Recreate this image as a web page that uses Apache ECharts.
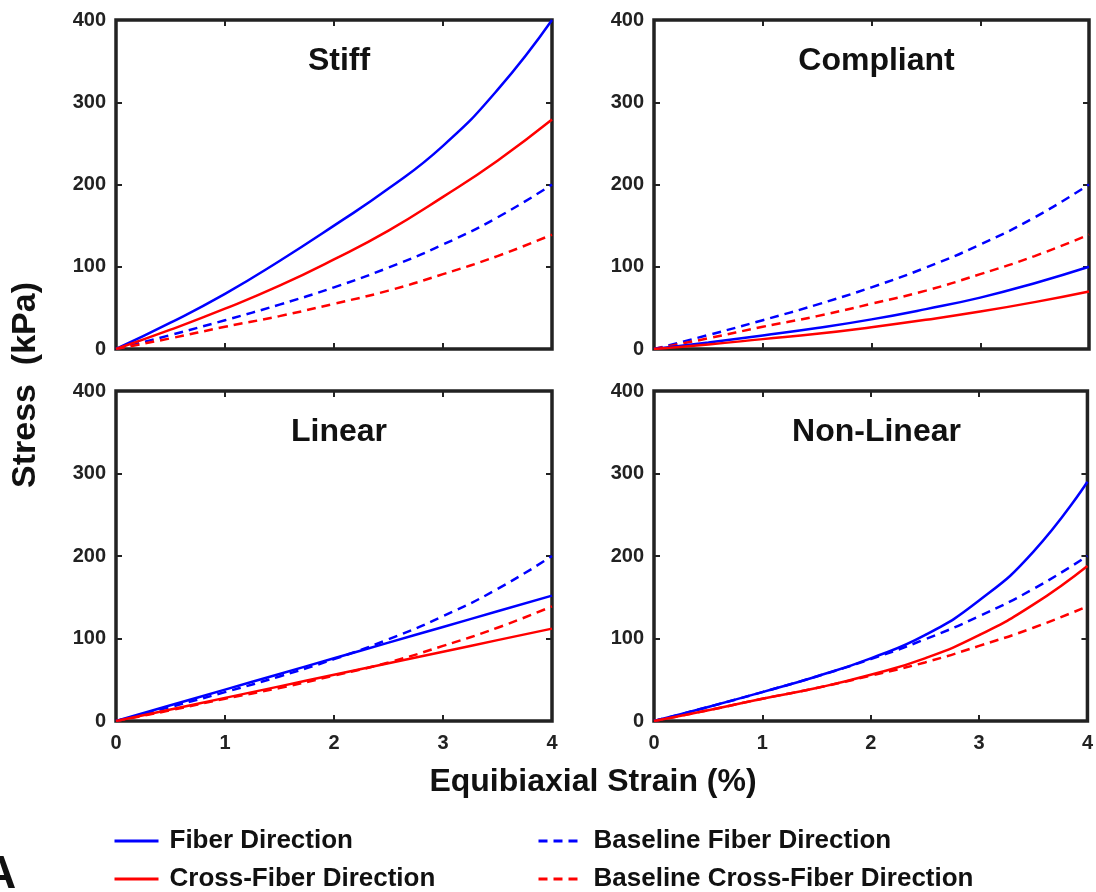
<!DOCTYPE html>
<html>
<head>
<meta charset="utf-8">
<script src="https://cdn.jsdelivr.net/npm/echarts@6/dist/echarts.min.js"></script>
<style>
  html, body { margin: 0; padding: 0; background: #fff; }
  #main { width: 1096px; height: 892px; }
</style>
</head>
<body>
<div id="main"></div>
<script>
// strain (%) sample points
var strain = [0, 0.5, 1, 1.5, 2, 2.5, 3, 3.5, 4];

// baseline curves (same in every panel)
var baseFiber = [0, 17, 35, 54, 75, 99, 127, 160, 200];
var baseCross = [0, 13, 27, 40, 55, 71, 91, 113, 139];

// panel curves
var stiffFiber = [0, 32, 67, 107, 150, 195, 247, 315, 400];
var stiffCross = [0, 23.5, 49, 77, 109, 144, 185, 229, 279];
var compFiber = [0, 8, 16.5, 25.5, 36, 48.5, 62.5, 80, 100];
var compCross = [0, 5.5, 12, 18.5, 26.5, 35.5, 45.5, 57, 70];
var linFiber = [0, 19, 38, 57, 76, 95, 114, 133, 152];
var linCross = [0, 14, 28, 42, 56, 70, 84, 98, 112];
var nlFiber = [0, 17, 35, 54, 76, 104, 146, 205, 290];
var nlCross = [0, 13, 27, 40, 56, 76, 104, 141, 188];

var panelTitles = ['Stiff', 'Compliant', 'Linear', 'Non-Linear'];
var panelFiber = [stiffFiber, compFiber, linFiber, nlFiber];
var panelCross = [stiffCross, compCross, linCross, nlCross];

var xTicks = [0, 1, 2, 3, 4];
var yTicks = [0, 100, 200, 300, 400];

var names = ['Fiber Direction', 'Cross-Fiber Direction', 'Baseline Fiber Direction', 'Baseline Cross-Fiber Direction'];

function pairs(vals) {
  var out = [];
  for (var i = 0; i < strain.length; i++) out.push([strain[i], vals[i]]);
  return out;
}

var chart = echarts.init(document.getElementById('main'));

var boxes = [
  {left: 116, top: 20, width: 436, height: 329},
  {left: 654, top: 20, width: 435, height: 329},
  {left: 116, top: 391, width: 436, height: 330},
  {left: 654, top: 391, width: 435, height: 330}
];

var dark = '#222';
var font = 'Liberation Sans, Arial, sans-serif';
var dash = [9, 6];

var grids = [], xAxes = [], yAxes = [], series = [], titles = [];

for (var p = 0; p < 4; p++) {
  var b = boxes[p];
  grids.push({left: b.left, top: b.top, width: b.width, height: b.height,
    show: true, borderColor: dark, borderWidth: 3.5, backgroundColor: '#fff', containLabel: false});

  var tick = {show: true, inside: true, length: 6, lineStyle: {color: dark, width: 2}};
  var noLine = {show: false, onZero: false};
  // bottom x axis
  xAxes.push({type: 'value', gridIndex: p, min: xTicks[0], max: xTicks[xTicks.length - 1], interval: 1,
    position: 'bottom', axisLine: noLine, axisTick: tick, splitLine: {show: false},
    axisLabel: {show: p >= 2, color: dark, fontSize: 20, fontWeight: 'bold', fontFamily: font, margin: 12}});
  // top mirror
  xAxes.push({type: 'value', gridIndex: p, min: 0, max: 4, interval: 1, position: 'top',
    axisLine: noLine, axisTick: tick, splitLine: {show: false}, axisLabel: {show: false}});
  // left y axis
  yAxes.push({type: 'value', gridIndex: p, min: yTicks[0], max: yTicks[yTicks.length - 1], interval: 100,
    position: 'left', axisLine: noLine, axisTick: tick, splitLine: {show: false},
    axisLabel: {color: dark, fontSize: 20, fontWeight: 'bold', fontFamily: font, margin: 10}});
  // right mirror
  yAxes.push({type: 'value', gridIndex: p, min: 0, max: 400, interval: 100, position: 'right',
    axisLine: noLine, axisTick: tick, splitLine: {show: false}, axisLabel: {show: false}});

  var sets = [
    [names[2], baseFiber, '#0000ff', dash],
    [names[3], baseCross, '#ff0000', dash],
    [names[0], panelFiber[p], '#0000ff', 'solid'],
    [names[1], panelCross[p], '#ff0000', 'solid']
  ];
  for (var s = 0; s < sets.length; s++) {
    series.push({
      name: sets[s][0], type: 'line', xAxisIndex: p * 2, yAxisIndex: p * 2,
      data: pairs(sets[s][1]), smooth: true, symbol: 'none', silent: true,
      lineStyle: {color: sets[s][2], width: 2.5, type: sets[s][3]},
      itemStyle: {color: sets[s][2]}
    });
  }

  titles.push({text: panelTitles[p], left: b.left + b.width / 2, top: b.top + 20, textAlign: 'center',
    textStyle: {fontSize: 32, fontWeight: 'bold', color: '#111', fontFamily: font}});
}

function legendItem(name, left, top) {
  return {data: [name], left: left, top: top, itemWidth: 44, itemHeight: 14, selectedMode: false,
    itemStyle: {opacity: 0}, lineStyle: {width: 3}, padding: 0,
    textStyle: {fontSize: 26, fontWeight: 'bold', color: '#111', fontFamily: font, padding: [0, 0, 0, 6]}};
}

chart.setOption({
  animation: false,
  backgroundColor: '#fff',
  title: titles,
  grid: grids,
  xAxis: xAxes,
  yAxis: yAxes,
  series: series,
  legend: [
    legendItem(names[0], 113, 828),
    legendItem(names[1], 113, 866),
    legendItem(names[2], 537, 828),
    legendItem(names[3], 537, 866)
  ],
  graphic: [
    {type: 'text', x: 593, y: 782, style: {text: 'Equibiaxial Strain (%)',
      font: 'bold 32px ' + font, fill: '#111', align: 'center', verticalAlign: 'middle'}},
    {type: 'text', x: 9, y: 385, rotation: Math.PI / 2, style: {text: 'Stress  (kPa)',
      font: 'bold 34px ' + font, fill: '#111', align: 'center', verticalAlign: 'top'}},
    {type: 'text', x: -17, y: 852, style: {text: 'A', font: 'bold 46px ' + font, fill: '#111',
      align: 'left', verticalAlign: 'top'}}
  ]
});
</script>
</body>
</html>
